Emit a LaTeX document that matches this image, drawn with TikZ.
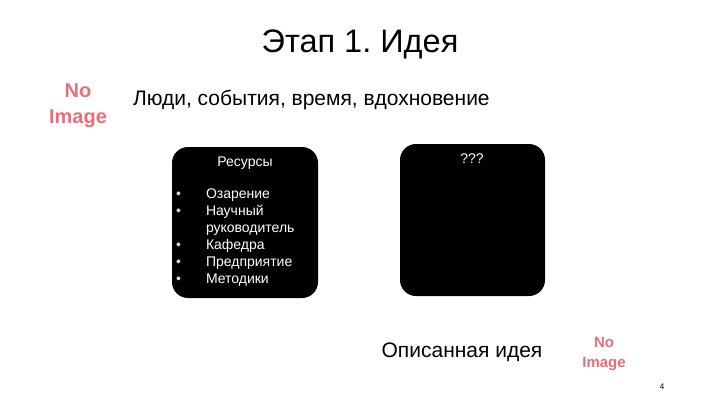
\documentclass[tikz,border=0pt]{standalone}
\usepackage{fontspec}
\setmainfont{Liberation Sans}
\frenchspacing
\newlength{\du}
\setlength{\du}{1pt}
\begin{document}
\begin{tikzpicture}[even odd rule]
\pgftransformxscale{1.000000}
\pgftransformyscale{-1.000000}
\useasboundingbox (0\du,0\du) rectangle (720\du,405\du);
\definecolor{dialinecolor}{rgb}{0.000000, 0.000000, 0.000000}
\definecolor{noimgcolor}{rgb}{0.917647, 0.431373, 0.474510}
\tikzset{txtbase/.style={anchor=base,inner sep=0pt,outer sep=0pt,color=dialinecolor},
         txtwest/.style={anchor=base west,inner sep=0pt,outer sep=0pt,color=dialinecolor},
         noimg/.style={anchor=base,inner sep=0pt,outer sep=0pt,color=noimgcolor,font=\fontsize{20}{22}\selectfont\bfseries},
         boxwhite/.style={anchor=base west,inner sep=0pt,outer sep=0pt,color=white,font=\fontsize{14}{16}\selectfont}}
% title
\node[txtbase,font=\fontsize{32.5}{36}\selectfont] (title) at (360.000000\du,52.000000\du){Этап 1. Идея};
% no image, top left
\node[noimg] (noimgA) at (78.000000\du,97.000000\du){No};
\node[noimg] (noimgB) at (78.000000\du,123.000000\du){Image};
\node[txtwest,font=\fontsize{21}{24}\selectfont] (people) at (133.000000\du,105.000000\du){Люди, события, время, вдохновение};
% boxes
{\definecolor{diafillcolor}{rgb}{0.000000, 0.000000, 0.000000}
\pgfsetfillcolor{diafillcolor}
\fill[rounded corners=16\du] (172.000000\du,147.000000\du) rectangle (318.000000\du,298.000000\du);
\fill[rounded corners=16\du] (400.000000\du,144.000000\du) rectangle (545.000000\du,296.000000\du);
}
\node[boxwhite,anchor=base] (res) at (245.000000\du,166.000000\du){Ресурсы};
\node[boxwhite,anchor=base] (qqq) at (472.000000\du,163.000000\du){???};
% bullet list
\foreach \yy/\txt in {198/Озарение,215/Научный,232/руководитель,249/Кафедра,266/Предприятие,283/Методики}{
\node[boxwhite] at (206.000000\du,\yy\du){\txt};
}
\foreach \yy in {198,215,249,266,283}{
\node[boxwhite,color=white!85!black] at (176.000000\du,\yy\du){•};
}
% bottom
\node[txtbase,font=\fontsize{21}{24}\selectfont] (idea) at (462.000000\du,357.000000\du){Описанная идея};
\node[noimg,font=\fontsize{15}{17}\selectfont\bfseries] (noimgC) at (604.000000\du,347.000000\du){No};
\node[noimg,font=\fontsize{15}{17}\selectfont\bfseries] (noimgD) at (604.000000\du,367.000000\du){Image};
\node[txtbase,font=\fontsize{8}{9}\selectfont] (page) at (662.000000\du,389.000000\du){4};
\end{tikzpicture}
\end{document}
